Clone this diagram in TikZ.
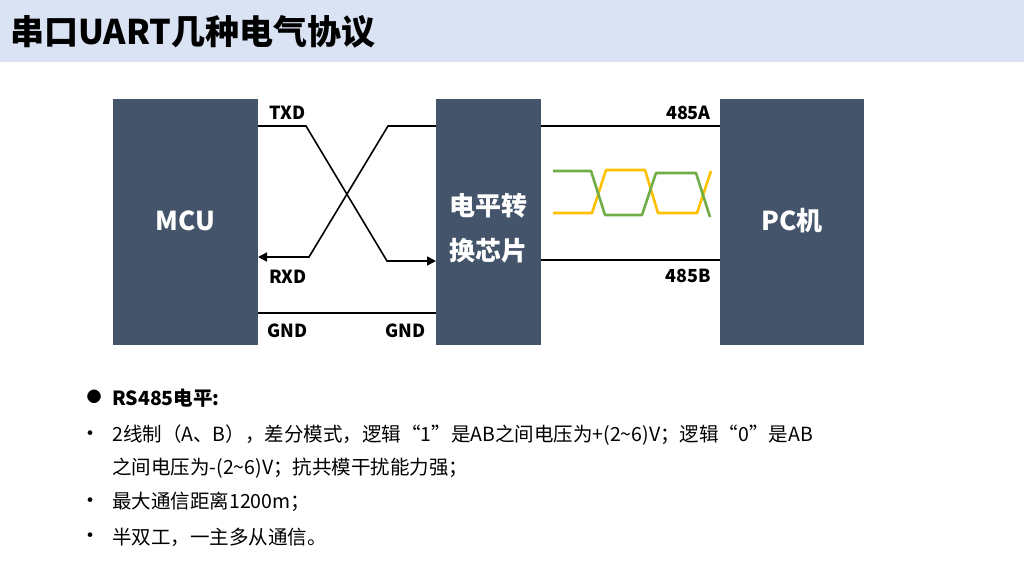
\documentclass[tikz,border=0pt]{standalone}
\usepackage{fontspec}
\setmainfont{Noto Sans CJK SC}
\usetikzlibrary{arrows.meta}
\definecolor{band}{HTML}{DAE3F3}
\definecolor{slate}{HTML}{44546A}
\definecolor{sigG}{HTML}{70AD47}
\definecolor{sigY}{HTML}{FFC000}
\tikzset{
  block/.style={fill=slate, draw=none},
  blocktext/.style={text=white, font=\bfseries\fontsize{26}{30}\selectfont, align=center},
  wire/.style={line width=1.6pt, black},
  wirearrow/.style={wire, -{Triangle[length=9pt,width=9pt]}},
  pin/.style={font=\bfseries\fontsize{18}{20}\selectfont, inner sep=0pt},
  wave/.style={line width=2.6pt, line join=round},
  bodytext/.style={font=\fontsize{19.5}{22}\selectfont, anchor=west, inner sep=0pt},
  dot/.style={anchor=center, inner sep=0pt, font=\fontsize{22}{22}\selectfont},
}
\begin{document}
\begin{tikzpicture}[x=1pt,y=-1pt]
\useasboundingbox (0,0) rectangle (1024,576);
% header band and title
\fill[band] (0,0) rectangle (1024,62);
\node[anchor=west, inner sep=0pt, font=\bfseries\fontsize{34}{38}\selectfont] (title) at (10,32) {串口UART几种电气协议};

% blocks
\fill[block] (113,99) rectangle (258,345);
\fill[block] (436,99) rectangle (541,345);
\fill[block] (720,99) rectangle (864,345);
\node[blocktext] (mcu) at (185.5,221) {MCU};
\node[blocktext, font=\bfseries\fontsize{26}{45}\selectfont] (conv) at (488.5,228) {电平转\\换芯片};
\node[blocktext] (pc) at (792,221) {PC机};

% anchor points on block edges
\coordinate (mcuTx) at (258,126);
\coordinate (mcuRx) at (258,257);
\coordinate (mcuGnd) at (258,313);
\coordinate (cvTx) at (436,261);
\coordinate (cvRx) at (436,126);
\coordinate (cvGnd) at (436,313);
\coordinate (cvA) at (541,126);
\coordinate (cvB) at (541,260);
\coordinate (pcA) at (720,126);
\coordinate (pcB) at (720,260);

% crossed TXD / RXD wires
\draw[wirearrow] (mcuTx) -- (306,126) -- (387,261) -- (cvTx);
\draw[wirearrow] (cvRx) -- (388,126) -- (309,257) -- (mcuRx);
\draw[wire] (mcuGnd) -- (cvGnd);
\draw[wire] (cvA) -- (pcA);
\draw[wire] (cvB) -- (pcB);

% pin labels
\node[pin, anchor=west] (ltx) at (269,113) {TXD};
\node[pin, anchor=west] (lrx) at (269,277) {RXD};
\node[pin, anchor=west] (lg1) at (267,331) {GND};
\node[pin, anchor=east] (lg2) at (426,331) {GND};
\node[pin, anchor=east] (la) at (711,113) {485A};
\node[pin, anchor=east] (lb) at (711,276) {485B};

% differential signal
\draw[wave, sigY] (553,213) -- (592,213) -- (606,170) -- (645,170) -- (658,213) -- (697,213) -- (711,171);
\draw[wave, sigG] (553,171) -- (591,171) -- (605,215) -- (642,215) -- (656,173) -- (696,173) -- (710,217);

% notes
\node[anchor=center, inner sep=0pt, font=\fontsize{15}{15}\selectfont] (b0) at (94,397) {●};
\node[bodytext, font=\bfseries\fontsize{19.5}{22}\selectfont] (t0) at (112,398) {RS485电平:};
\node[dot] (b1) at (90,436) {•};
\node[bodytext] (t1) at (112,435) {2线制（A、B），差分模式，逻辑“1”是AB之间电压为+(2\textasciitilde 6)V；逻辑“0”是AB};
\node[bodytext] (t1b) at (112,468) {之间电压为-(2\textasciitilde 6)V；抗共模干扰能力强；};
\node[dot] (b2) at (90,503) {•};
\node[bodytext] (t2) at (112,502) {最大通信距离1200m；};
\node[dot] (b3) at (90,538) {•};
\node[bodytext] (t3) at (112,537) {半双工，一主多从通信。};
\end{tikzpicture}
\end{document}
